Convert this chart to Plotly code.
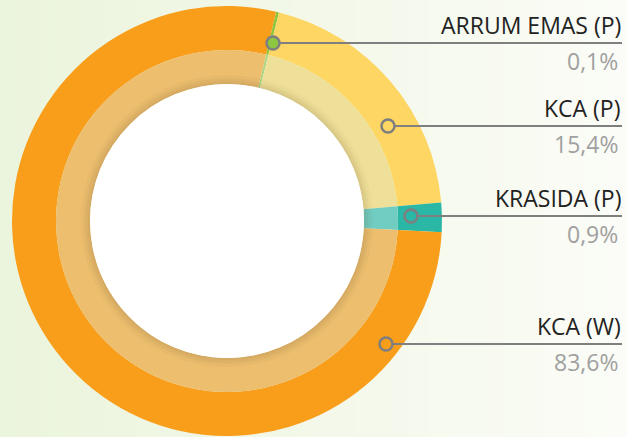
import plotly.graph_objects as go

# ---- data ----
labels = ["ARRUM EMAS (P)", "KCA (P)", "KRASIDA (P)", "KCA (W)"]
slice_values = [0.22, 19.75, 2.2, 77.83]         # slice sizes as drawn
pct_labels = ["0,1%", "15,4%", "0,9%", "83,6%"]   # percentages as printed
colors = ["#8DC63F", "#FDD663", "#2AB7A6", "#F89E1B"]

# ---- layout constants (pixels) ----
W, H = 627, 437
cx, cy = 227, 221
R_OUT, R_MID, R_HOLE = 215, 171, 137
line_y = [43, 126, 216, 344]
marker_x = [273, 388, 411, 386]
x_right = 622


def px(x):
    return x / W


def py(y):
    return 1 - y / H


def domain(r):
    return dict(x=[px(cx - r), px(cx + r)], y=[py(cy + r), py(cy - r)])


def blend(hexc, over=(219, 239, 234), a=0.4):
    h = hexc.lstrip("#")
    r, g, b = (int(h[i:i + 2], 16) for i in (0, 2, 4))
    c = [round(v * (1 - a) + o * a) for v, o in zip((r, g, b), over)]
    return "rgb({},{},{})".format(*c)


inner_colors = [blend(c) for c in colors]

fig = go.Figure()
common = dict(labels=labels, values=slice_values, sort=False, direction="clockwise",
              rotation=13.2, textinfo="none", hoverinfo="skip", showlegend=False)
fig.add_trace(go.Pie(domain=domain(R_OUT), hole=R_MID / R_OUT,
                     marker=dict(colors=colors, line=dict(width=0)), **common))
fig.add_trace(go.Pie(domain=domain(R_MID), hole=R_HOLE / R_MID,
                     marker=dict(colors=inner_colors, line=dict(width=0)), **common))
# soft inner shadow
for k in (9, 6, 4, 2):
    fig.add_trace(go.Pie(domain=domain(R_HOLE + k), hole=R_HOLE / (R_HOLE + k),
                         labels=["s"], values=[1], sort=False, textinfo="none",
                         hoverinfo="skip", showlegend=False,
                         marker=dict(colors=["rgba(90,70,20,0.035)"], line=dict(width=0))))
# white centre
fig.add_trace(go.Pie(domain=domain(R_HOLE), labels=["c"], values=[1], sort=False,
                     textinfo="none", hoverinfo="skip", showlegend=False,
                     marker=dict(colors=["#FFFFFF"], line=dict(width=0))))

shapes = []
# background gradient
n = 60
c0 = (235, 244, 220)
c1 = (251, 252, 247)
for i in range(n):
    t = i / (n - 1)
    col = "rgb({},{},{})".format(*[round(a + (b - a) * t) for a, b in zip(c0, c1)])
    shapes.append(dict(type="rect", xref="paper", yref="paper", layer="below",
                       x0=i / n, x1=(i + 1) / n + 0.002, y0=0, y1=1,
                       fillcolor=col, line=dict(width=0)))

annotations = []
for lab, pct, col, ly, mx in zip(labels, pct_labels, colors, line_y, marker_x):
    shapes.append(dict(type="line", xref="paper", yref="paper",
                       x0=px(mx), x1=px(x_right), y0=py(ly), y1=py(ly),
                       line=dict(color="#7F7F7F", width=2)))
    rr = 6.5
    shapes.append(dict(type="circle", xref="paper", yref="paper",
                       x0=px(mx - rr), x1=px(mx + rr), y0=py(ly + rr), y1=py(ly - rr),
                       fillcolor=col, line=dict(color="#7F7F7F", width=2.5)))
    annotations.append(dict(xref="paper", yref="paper", x=px(x_right + 1), y=py(ly - 18),
                            xanchor="right", yanchor="middle", showarrow=False, text=lab,
                            font=dict(family="Open Sans", size=23, color="#222222")))
    annotations.append(dict(xref="paper", yref="paper", x=px(x_right - 2), y=py(ly + 18),
                            xanchor="right", yanchor="middle", showarrow=False, text=pct,
                            font=dict(family="Open Sans", size=23, color="#A0A0A0")))

fig.update_layout(width=W, height=H, margin=dict(l=0, r=0, t=0, b=0),
                  paper_bgcolor="#F6F9EF", plot_bgcolor="rgba(0,0,0,0)",
                  shapes=shapes, annotations=annotations)

fig.write_html("out.html", config=dict(displayModeBar=False),
               post_script="document.body.style.margin='0';document.body.style.overflow='hidden';")
